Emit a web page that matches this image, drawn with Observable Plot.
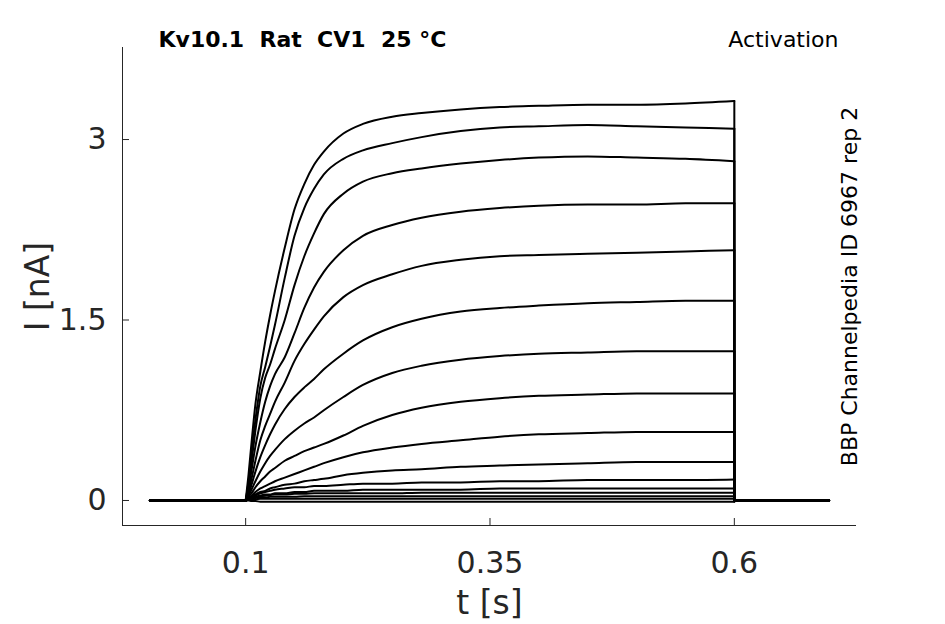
<!DOCTYPE html>
<html>
<head>
<meta charset="utf-8">
<script src="https://cdn.jsdelivr.net/npm/d3@7"></script>
<script src="https://cdn.jsdelivr.net/npm/@observablehq/plot@0.6"></script>
<style>
  html, body { margin: 0; padding: 0; background: #ffffff; }
  #chart svg { display: block; }
</style>
</head>
<body>
<div id="chart"></div>
<script>
// ---- Data ----
const xTicks = [0.1, 0.35, 0.6];
const yTicks = [0, 1.5, 3];
const xDomain = [-0.026, 0.725];
const yDomain = [-0.208, 3.765];

const recordStart = 0.002;   // s, start of recording
const stepStart = 0.100;     // s, voltage step on
const stepEnd = 0.600;       // s, voltage step off
const recordEnd = 0.697;     // s, end of recording
const pulseTimes = [0.100, 0.103, 0.106, 0.110, 0.115, 0.120, 0.125, 0.130, 0.140, 0.150, 0.160, 0.170,
                    0.180, 0.200, 0.220, 0.250, 0.280, 0.320, 0.360, 0.400, 0.450, 0.500, 0.550, 0.600];

// current (nA) during the voltage step, one array per sweep
const sweep01 = [0, 0.22, 0.48, 0.80, 1.07, 1.32, 1.54, 1.74, 2.10, 2.42, 2.63, 2.79, 2.90, 3.05, 3.13, 3.19, 3.22, 3.25, 3.27, 3.28, 3.29, 3.29, 3.30, 3.32];
const sweep02 = [0, 0.16, 0.40, 0.67, 0.95, 1.11, 1.28, 1.46, 1.85, 2.20, 2.43, 2.59, 2.71, 2.84, 2.91, 2.97, 3.02, 3.07, 3.10, 3.11, 3.12, 3.11, 3.10, 3.09];
const sweep03 = [0, 0.12, 0.32, 0.58, 0.85, 1.02, 1.13, 1.26, 1.50, 1.79, 2.03, 2.22, 2.38, 2.55, 2.65, 2.72, 2.76, 2.80, 2.83, 2.85, 2.86, 2.85, 2.84, 2.82];
const sweep04 = [0, 0.10, 0.25, 0.45, 0.65, 0.82, 0.95, 1.05, 1.19, 1.39, 1.60, 1.77, 1.90, 2.08, 2.20, 2.29, 2.35, 2.40, 2.43, 2.45, 2.46, 2.46, 2.47, 2.47];
const sweep05 = [0, 0.07, 0.18, 0.33, 0.50, 0.62, 0.72, 0.82, 0.98, 1.16, 1.30, 1.42, 1.53, 1.69, 1.79, 1.88, 1.95, 2.00, 2.03, 2.04, 2.05, 2.06, 2.07, 2.08];
const sweep06 = [0, 0.05, 0.13, 0.24, 0.36, 0.46, 0.55, 0.63, 0.76, 0.86, 0.94, 1.01, 1.09, 1.22, 1.33, 1.44, 1.51, 1.57, 1.60, 1.62, 1.64, 1.65, 1.66, 1.66];
const sweep07 = [0, 0.04, 0.09, 0.16, 0.24, 0.31, 0.37, 0.42, 0.51, 0.58, 0.64, 0.69, 0.75, 0.86, 0.96, 1.06, 1.12, 1.17, 1.20, 1.22, 1.23, 1.24, 1.24, 1.24];
const sweep08 = [0, 0.03, 0.06, 0.11, 0.16, 0.20, 0.24, 0.27, 0.33, 0.37, 0.41, 0.44, 0.47, 0.54, 0.62, 0.71, 0.77, 0.82, 0.85, 0.87, 0.88, 0.89, 0.89, 0.89];
const sweep09 = [0, 0.02, 0.04, 0.07, 0.10, 0.12, 0.14, 0.16, 0.19, 0.22, 0.25, 0.28, 0.31, 0.36, 0.40, 0.44, 0.47, 0.50, 0.53, 0.55, 0.56, 0.57, 0.57, 0.57];
const sweep10 = [0, 0.02, 0.03, 0.05, 0.07, 0.08, 0.10, 0.11, 0.13, 0.14, 0.16, 0.17, 0.18, 0.21, 0.23, 0.25, 0.26, 0.28, 0.29, 0.30, 0.31, 0.32, 0.32, 0.32];
const sweep11 = [0, 0.02, 0.03, 0.04, 0.06, 0.07, 0.08, 0.09, 0.10, 0.11, 0.11, 0.12, 0.12, 0.13, 0.14, 0.14, 0.15, 0.15, 0.16, 0.16, 0.17, 0.17, 0.17, 0.175];
const sweep12 = [0, 0.02, 0.02, 0.03, 0.04, 0.05, 0.05, 0.06, 0.06, 0.07, 0.07, 0.08, 0.08, 0.08, 0.09, 0.09, 0.09, 0.09, 0.10, 0.10, 0.10, 0.10, 0.10, 0.10];
const sweep13 = [0, 0.01, 0.02, 0.03, 0.035, 0.04, 0.045, 0.05, 0.05, 0.055, 0.055, 0.06, 0.06, 0.06, 0.06, 0.06, 0.065, 0.065, 0.065, 0.065, 0.065, 0.065, 0.065, 0.065];
const sweep14 = [0, 0.01, 0.015, 0.02, 0.025, 0.025, 0.03, 0.03, 0.03, 0.03, 0.035, 0.035, 0.035, 0.035, 0.035, 0.035, 0.035, 0.035, 0.035, 0.035, 0.035, 0.035, 0.035, 0.035];
const sweep15 = [0, 0.005, 0.01, 0.01, 0.015, 0.015, 0.015, 0.015, 0.015, 0.015, 0.015, 0.015, 0.015, 0.015, 0.015, 0.015, 0.015, 0.015, 0.015, 0.015, 0.015, 0.015, 0.015, 0.015];
const sweep16 = [0, 0, -0.005, -0.005, -0.01, -0.01, -0.01, -0.01, -0.01, -0.01, -0.01, -0.01, -0.01, -0.01, -0.01, -0.01, -0.01, -0.01, -0.01, -0.01, -0.01, -0.01, -0.01, -0.01];

const sweeps = [sweep01, sweep02, sweep03, sweep04, sweep05, sweep06, sweep07, sweep08,
                sweep09, sweep10, sweep11, sweep12, sweep13, sweep14, sweep15, sweep16];

const titleText = "Kv10.1\u00A0\u00A0Rat\u00A0\u00A0CV1\u00A0\u00A025\u00A0°C";
const protocolText = "Activation";
const sourceText = "BBP Channelpedia ID 6967 rep 2";
const xLabel = "t [s]";
const yLabel = "I [nA]";

// ---- Build tables ----
const pulseRows = [];   // smooth activation phase
const restRows = [];    // baseline before, tail drop and baseline after
sweeps.forEach((vals, k) => {
  pulseTimes.forEach((t, i) => pulseRows.push({sweep: k, t, I: vals[i]}));
  restRows.push({seg: `${k}-pre`, t: recordStart, I: 0});
  restRows.push({seg: `${k}-pre`, t: stepStart, I: 0});
  restRows.push({seg: `${k}-post`, t: stepEnd, I: vals[vals.length - 1]});
  restRows.push({seg: `${k}-post`, t: stepEnd, I: 0});
  restRows.push({seg: `${k}-post`, t: recordEnd, I: 0});
});

const axisColor = "#262626";
const font = "DejaVu Sans";
const traceWidth = 2;

const chart = Plot.plot({
  width: 945,
  height: 624,
  marginTop: 47,
  marginLeft: 122,
  marginRight: 89,
  marginBottom: 99,
  style: {fontFamily: font, background: "#ffffff", color: axisColor, overflow: "visible"},
  x: {domain: xDomain, ticks: xTicks},
  y: {domain: yDomain, ticks: yTicks},
  marks: [
    Plot.ruleX([xDomain[0]], {stroke: axisColor, strokeWidth: 1}),
    Plot.ruleY([yDomain[0]], {stroke: axisColor, strokeWidth: 1}),
    Plot.axisX(xTicks, {tickSize: 7, dy: -7, text: null, stroke: axisColor, label: null}),
    Plot.axisY(yTicks, {tickSize: 7, dx: 7, text: null, stroke: axisColor, label: null}),
    Plot.axisX(xTicks, {tickSize: 0, tickPadding: 26, fontSize: 30, fill: axisColor, label: null, tickFormat: d => String(d)}),
    Plot.axisY(yTicks, {tickSize: 0, tickPadding: 16, fontSize: 30, fill: axisColor, label: null, tickFormat: d => String(d)}),
    Plot.line(restRows, {x: "t", y: "I", z: "seg", stroke: "#000000", strokeWidth: traceWidth, strokeLinejoin: "round"}),
    Plot.line(pulseRows, {x: "t", y: "I", z: "sweep", curve: "monotone-x", stroke: "#000000", strokeWidth: traceWidth, strokeLinejoin: "round"}),
    Plot.text([yLabel], {frameAnchor: "left", dx: -84, rotate: -90, fontSize: 33, fill: axisColor, textAnchor: "middle", lineAnchor: "middle"}),
    Plot.text([xLabel], {frameAnchor: "bottom", dy: 78, fontSize: 33, fill: axisColor, textAnchor: "middle", lineAnchor: "middle"}),
    Plot.text([titleText], {frameAnchor: "top-left", dx: 36, dy: -8, fontSize: 22, fontWeight: "bold", fill: "#000000", textAnchor: "start", lineAnchor: "middle"}),
    Plot.text([protocolText], {frameAnchor: "top-right", dx: -18, dy: -8, fontSize: 22, fill: "#000000", textAnchor: "end", lineAnchor: "middle"}),
    Plot.text([sourceText], {frameAnchor: "right", dx: -7, rotate: -90, fontSize: 22, fill: "#000000", textAnchor: "middle", lineAnchor: "middle"})
  ]
});

document.getElementById("chart").appendChild(chart);
</script>
</body>
</html>
